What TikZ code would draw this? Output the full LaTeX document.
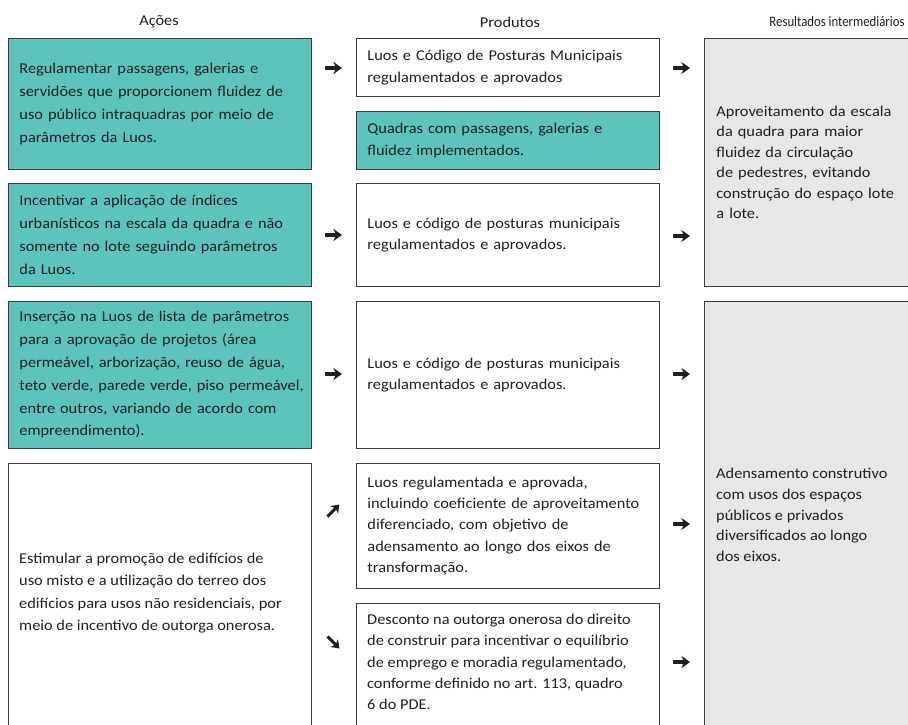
\documentclass[tikz,border=0pt]{standalone}
\usepackage{fontspec}
\setmainfont{Carlito}[FakeStretch=1.09]
\newfontfamily\narrowhead{Carlito}[FakeStretch=0.88]
\usetikzlibrary{arrows.meta,calc}
\definecolor{tealf}{HTML}{5CC4BB}
\definecolor{bord}{HTML}{3C3C3C}
\definecolor{grayf}{HTML}{E6E7E8}
\definecolor{txt}{HTML}{231F20}
\tikzset{
  boxbase/.style={draw=bord, line width=0.9pt, anchor=north west, inner ysep=0pt, text=txt, align=left},
  actbox/.style={boxbase, fill=tealf, inner xsep=11pt, text width=281pt, font=\fontsize{15}{22.8}\selectfont},
  actwhite/.style={boxbase, fill=white, inner xsep=11pt, text width=281pt, font=\fontsize{15}{22.8}\selectfont},
  prodbox/.style={boxbase, fill=white, inner xsep=11pt, text width=281pt, font=\fontsize{15}{21.3}\selectfont},
  prodteal/.style={prodbox, fill=tealf},
  resbox/.style={boxbase, fill=grayf, inner xsep=12pt, text width=186pt, font=\fontsize{15}{20.5}\selectfont},
  freetext/.style={anchor=west, inner sep=0pt, align=left, text=txt},
  head/.style={inner sep=0pt, text=txt, font=\fontsize{15}{18}\selectfont},
  arr/.style={draw=txt, line width=3.2pt, -{Stealth[length=8.5pt, width=12pt, inset=2.5pt]}},
  darr/.style={draw=txt, line width=3pt, -{Stealth[length=7.5pt, width=10.5pt, inset=2pt]}}
}
\begin{document}
\begin{tikzpicture}[x=1pt,y=-1pt]
\path[use as bounding box] (0,0) rectangle (908,724);
\clip (0,0) rectangle (908,724);
\fill[white] (0,0) rectangle (908,724);

% headers
\node[head] (h1) at (159,22) {Ações};
\node[head] (h2) at (510,22) {Produtos};
\node[head, font=\fontsize{14.5}{18}\narrowhead] (h3) at (837,22) {Resultados intermediários};

% actions
\node[actbox, minimum height=131pt] (a1) at (8,38) {Regulamentar passagens, galerias e\\\mbox{servidões que proporcionem fluidez de}\\uso público intraquadras por meio de\\parâmetros da Luos.};
\node[actbox, minimum height=103pt] (a2) at (8,183) {Incentivar a aplicação de índices\\\mbox{urbanísticos na escala da quadra e não}\\somente no lote seguindo parâmetros\\da Luos.};
\node[actbox, minimum height=147pt] (a3) at (8,301) {\mbox{Inserção na Luos de lista de parâmetros}\\para a aprovação de projetos (área\\\mbox{permeável, arborização, reuso de água,}\\\mbox{teto verde, parede verde, piso permeável,}\\entre outros, variando de acordo com\\empreendimento).};
\node[actwhite, minimum height=280pt] (a4) at (8,463) {};
\node[freetext, font=\fontsize{15}{22.3}\selectfont] (a4t) at (19,593) {Estimular a promoção de edifícios de\\uso misto e a utilização do terreo dos\\edifícios para usos não residenciais, por\\meio de incentivo de outorga onerosa.};

% products
\node[prodbox, minimum height=58pt] (p1) at (356,38) {\mbox{Luos e Código de Posturas Municipais}\\regulamentados e aprovados};
\node[prodteal, minimum height=58pt] (p2) at (356,111) {Quadras com passagens, galerias e\\fluidez implementados.};
\node[prodbox, minimum height=103pt] (p3) at (356,183) {\mbox{Luos e código de posturas municipais}\\regulamentados e aprovados.};
\node[prodbox, minimum height=147pt] (p4) at (356,301) {\mbox{Luos e código de posturas municipais}\\regulamentados e aprovados.};
\node[prodbox, minimum height=125pt] (p5) at (356,463) {Luos regulamentada e aprovada,\\\mbox{incluindo coeficiente de aproveitamento}\\diferenciado, com objetivo de\\\mbox{adensamento ao longo dos eixos de}\\transformação.};
\node[prodbox, minimum height=140pt] (p6) at (356,603) {};
\node[freetext, font=\fontsize{15}{21.3}\selectfont] (p6t) at (367,662) {Desconto na outorga onerosa do direito\\de construir para incentivar o equilíbrio\\de emprego e moradia regulamentado,\\conforme definido no art. 113, quadro\\6 do PDE.};

% results
\node[resbox, minimum height=248pt] (r1) at (704,38) {Aproveitamento da escala\\da quadra para maior\\fluidez da circulação\\de pedestres, evitando\\\mbox{construção do espaço lote}\\a lote.};
\node[resbox, minimum height=440pt] (r2) at (704,301) {};
\node[freetext, font=\fontsize{15}{20.8}\selectfont] (r2t) at (716,515) {Adensamento construtivo\\com usos dos espaços\\públicos e privados\\diversificados ao longo\\dos eixos.};

% arrows actions -> products
\coordinate (la1) at (325,68);
\coordinate (la2) at (325,235);
\coordinate (la3) at (325,374);
\draw[arr] (la1) -- ++(17,0);
\draw[arr] (la2) -- ++(17,0);
\draw[arr] (la3) -- ++(17,0);
\coordinate (ld1) at (327.5,516.5);
\coordinate (ld2) at (327.5,636.5);
\draw[darr] (ld1) -- ++(12,-12);
\draw[darr] (ld2) -- ++(12,12);

% arrows products -> results
\coordinate (ra1) at (673,68);
\coordinate (ra2) at (673,236);
\coordinate (ra3) at (673,374);
\coordinate (ra4) at (673,524);
\coordinate (ra5) at (673,662);
\foreach \c in {ra1,ra2,ra3,ra4,ra5}{\draw[arr] (\c) -- ++(17,0);}
\end{tikzpicture}
\end{document}
